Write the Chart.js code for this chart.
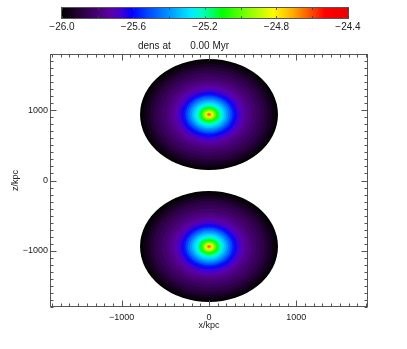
<!DOCTYPE html>
<html lang="en">
<head>
<meta charset="UTF-8">
<title>dens at 0.00 Myr</title>
<style>
  * { margin: 0; padding: 0; box-sizing: border-box; }
  body { background: #fff; width: 407px; height: 349px; overflow: hidden; }
  #wrap { position: relative; width: 407px; height: 349px; }
  #wrap canvas { position: absolute; left: 0; top: 0; }
</style>
</head>
<body>
<div id="wrap">
  <canvas id="main" width="407" height="349"></canvas>
  <canvas id="cbar" width="407" height="40"></canvas>
</div>
<script src="https://cdn.jsdelivr.net/npm/chart.js@4/dist/chart.umd.min.js"></script>
<script>
// blob centres (kpc)
const blobX = [0, 0];
const blobZ = [940, -940];

// radial profile: ring radius (kpc) and log density
const ringRadius  = [790, 760, 720, 680, 640, 590, 540, 490, 450, 410, 380, 350, 320, 295, 270, 245, 220, 195, 170, 145, 120, 100, 80, 62, 46, 32, 20, 10, 4];
const ringLogDens = [-26.00, -25.97, -25.94, -25.91, -25.88, -25.85, -25.82, -25.79, -25.76, -25.73, -25.70, -25.67, -25.63, -25.58, -25.52,
                     -25.46, -25.40, -25.34, -25.29, -25.22, -25.15, -25.09, -25.01, -24.93, -24.84, -24.75, -24.67, -24.60, -24.55];

// axes
const xMajorTicks = [-1000, 0, 1000];
const zMajorTicks = [-1000, 0, 1000];
const cbTickValues = [-26.0, -25.8, -25.6, -25.4, -25.2, -25.0, -24.8, -24.6, -24.4];
const cbTickLabels = ['\u221226.0', '', '\u221225.6', '', '\u221225.2', '', '\u221224.8', '', '\u221224.4'];
const cbMin = -26.0, cbMax = -24.4;

const titleText = 'dens at       0.00 Myr';
const FONT = "'Liberation Sans', Arial, Helvetica, sans-serif";

// rainbow colour table (fraction -> rgb)
const cmapStops = [
  [0.00, 0, 0, 0], [0.05, 32, 0, 48], [0.11, 65, 0, 105], [0.17, 92, 0, 165],
  [0.21, 60, 0, 215], [0.245, 0, 0, 255], [0.30, 0, 70, 255], [0.37, 0, 145, 255],
  [0.45, 0, 235, 255], [0.49, 0, 255, 190], [0.56, 0, 255, 0], [0.64, 120, 255, 0],
  [0.74, 255, 250, 0], [0.80, 255, 180, 0], [0.86, 255, 90, 0], [0.92, 255, 0, 0],
  [1.00, 235, 0, 0]
];

function cmap(v) {
  let f = (v - cbMin) / (cbMax - cbMin);
  f = Math.max(0, Math.min(1, f));
  for (let i = 1; i < cmapStops.length; i++) {
    const a = cmapStops[i - 1], b = cmapStops[i];
    if (f <= b[0]) {
      const t = (f - a[0]) / (b[0] - a[0]);
      const c = [1, 2, 3].map(k => Math.round(a[k] + (b[k] - a[k]) * t));
      return `rgb(${c[0]},${c[1]},${c[2]})`;
    }
  }
  return 'rgb(235,0,0)';
}

const fmt = v => String(v).replace('-', '\u2212');

const ringData = [];
blobZ.forEach((z, b) => {
  ringRadius.forEach((r, i) => ringData.push({ x: blobX[b], y: z, r: r, v: ringLogDens[i] }));
});

const densImage = {
  id: 'densImage',
  beforeDatasetsDraw(chart) {
    const { ctx, chartArea: a, scales: { x, y } } = chart;
    ctx.save();
    ctx.beginPath();
    ctx.rect(a.left, a.top, a.width, a.height);
    ctx.clip();
    chart.data.datasets[0].data.forEach(p => {
      const cx = x.getPixelForValue(p.x), cy = y.getPixelForValue(p.y);
      const rx = Math.abs(x.getPixelForValue(p.x + p.r) - cx);
      const ry = Math.abs(y.getPixelForValue(p.y + p.r) - cy);
      ctx.fillStyle = cmap(p.v);
      ctx.beginPath();
      ctx.ellipse(cx, cy, rx, ry, 0, 0, Math.PI * 2);
      ctx.fill();
    });
    ctx.restore();
  },
  afterDatasetsDraw(chart) {
    const { ctx, chartArea: a, scales: { x, y } } = chart;
    const l = a.left - 0.5, t = a.top + 0.5, r = a.right + 0.5, b = a.bottom - 0.5;
    ctx.save();
    ctx.strokeStyle = '#555';
    ctx.lineWidth = 1;
    ctx.strokeRect(l, t, r - l, b - t);
    ctx.beginPath();
    x.ticks.forEach(tk => {
      const px = Math.round(x.getPixelForValue(tk.value)) + 0.5;
      const len = xMajorTicks.includes(tk.value) ? 6 : 3;
      ctx.moveTo(px, b); ctx.lineTo(px, b - len);
      ctx.moveTo(px, t); ctx.lineTo(px, t + len);
    });
    y.ticks.forEach(tk => {
      const py = Math.round(y.getPixelForValue(tk.value)) + 0.5;
      const len = zMajorTicks.includes(tk.value) ? 6 : 3;
      ctx.moveTo(l, py); ctx.lineTo(l + len, py);
      ctx.moveTo(r, py); ctx.lineTo(r - len, py);
    });
    ctx.stroke();
    ctx.restore();
  }
};

new Chart(document.getElementById('main'), {
  type: 'scatter',
  data: {
    datasets: [{ label: 'dens', data: ringData, pointRadius: 0, pointHoverRadius: 0, showLine: false }]
  },
  plugins: [densImage],
  options: {
    responsive: false,
    animation: false,
    devicePixelRatio: 1,
    events: [],
    layout: { padding: { left: 0, right: 40, top: 0, bottom: 12 } },
    plugins: {
      legend: { display: false },
      tooltip: { enabled: false },
      title: {
        display: true,
        text: titleText,
        color: '#222',
        font: { family: FONT, size: 10, weight: 'normal', lineHeight: 1.2 },
        padding: { top: 40, bottom: 2 }
      }
    },
    scales: {
      x: {
        type: 'linear',
        min: -1810, max: 1810,
        grid: { display: false, drawTicks: false },
        border: { display: false },
        ticks: {
          stepSize: 100, autoSkip: false, maxRotation: 0, includeBounds: false,
          padding: 5, color: '#222',
          font: { family: FONT, size: 9 },
          callback: v => xMajorTicks.includes(v) ? fmt(v) : ''
        },
        title: {
          display: true, text: 'x/kpc', color: '#222',
          font: { family: FONT, size: 9 },
          padding: { top: 0, bottom: 5.6 }
        },
        afterFit: s => { s.height = 30; }
      },
      y: {
        type: 'linear',
        min: -1800, max: 1800,
        grid: { display: false, drawTicks: false },
        border: { display: false },
        ticks: {
          stepSize: 100, autoSkip: false, includeBounds: false,
          padding: 3, color: '#222',
          font: { family: FONT, size: 9 },
          callback: v => zMajorTicks.includes(v) ? fmt(v) : ''
        },
        title: {
          display: true, text: 'z/kpc', color: '#222',
          font: { family: FONT, size: 9 },
          padding: { top: 10.5, bottom: 0 }
        },
        afterFit: s => { s.width = 51; }
      }
    }
  }
});

const colourBar = {
  id: 'colourBar',
  beforeDatasetsDraw(chart) {
    const { ctx, chartArea: a, scales: { x } } = chart;
    ctx.save();
    for (let px = Math.floor(a.left); px < Math.ceil(a.right); px++) {
      ctx.fillStyle = cmap(x.getValueForPixel(px + 0.5));
      ctx.fillRect(px, a.top, 1, a.height);
    }
    ctx.strokeStyle = '#555';
    ctx.lineWidth = 1;
    ctx.strokeRect(a.left - 0.5, a.top - 0.5, a.width + 1, a.height + 1);
    ctx.strokeStyle = 'rgba(60,60,60,0.8)';
    ctx.beginPath();
    x.ticks.forEach(tk => {
      const px = Math.round(x.getPixelForValue(tk.value)) + 0.5;
      ctx.moveTo(px, a.top); ctx.lineTo(px, a.top + 2);
      ctx.moveTo(px, a.bottom); ctx.lineTo(px, a.bottom - 2);
    });
    ctx.stroke();
    ctx.restore();
  }
};

new Chart(document.getElementById('cbar'), {
  type: 'scatter',
  data: { datasets: [{ data: [], pointRadius: 0 }] },
  plugins: [colourBar],
  options: {
    responsive: false,
    animation: false,
    devicePixelRatio: 1,
    events: [],
    layout: { padding: { left: 62, right: 59, top: 8, bottom: 0 } },
    plugins: { legend: { display: false }, tooltip: { enabled: false } },
    scales: {
      x: {
        type: 'linear',
        min: cbMin, max: cbMax,
        grid: { display: false, drawTicks: false },
        border: { display: false },
        afterBuildTicks: s => { s.ticks = cbTickValues.map(v => ({ value: v })); },
        ticks: {
          autoSkip: false, maxRotation: 0, padding: 3.5, color: '#222',
          font: { family: FONT, size: 10 },
          callback: (v, i) => cbTickLabels[i]
        },
        afterFit: s => { s.height = 22; }
      },
      y: { display: false, min: 0, max: 1 }
    }
  }
});
</script>
</body>
</html>
